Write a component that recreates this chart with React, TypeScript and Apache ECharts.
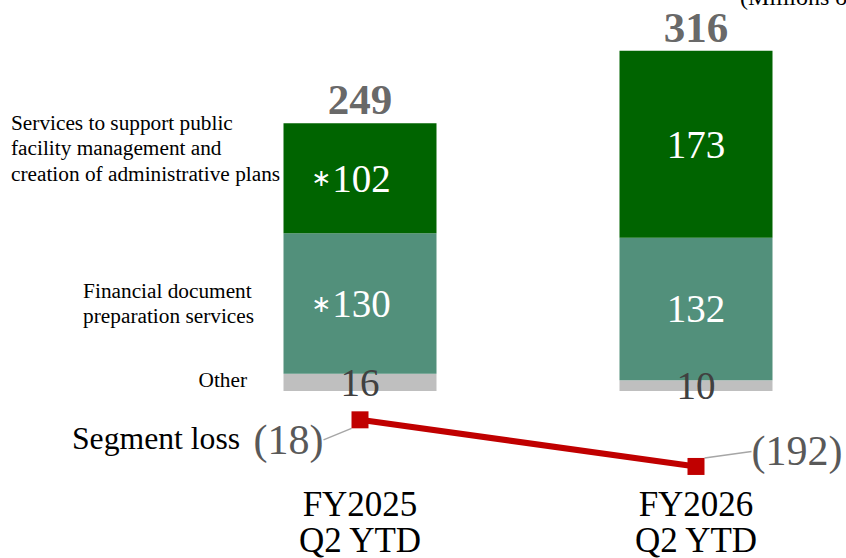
import React, { useEffect, useRef } from "react";
import * as echarts from "echarts";

const categories = ["FY2025\nQ2 YTD", "FY2026\nQ2 YTD"];
const otherValues = [16, 10];
const financialValues = [130, 132];
const publicValues = [102, 173];
const totals = [249, 316];
const segmentLoss = [-18, -192];
const estimateMarks = ["∗", ""];

const FONT = "'Liberation Serif', 'Times New Roman', serif";

export default function App() {
  const ref = useRef<HTMLDivElement>(null);
  useEffect(() => {
    if (!ref.current) return;
    const chart = echarts.init(ref.current, null, { renderer: "svg" });
    const barData = (values: number[], withMark: boolean) =>
      values.map((v, i) => ({
        value: v,
        label: withMark && estimateMarks[i] ? { offset: [-9, 0] } : {},
      }));
    const barLabel = (color: string, withMark: boolean) => ({
      show: true,
      position: "inside" as const,
      color,
      fontSize: 39,
      fontFamily: FONT,
      formatter: (p: any) => {
        const mark = withMark ? estimateMarks[p.dataIndex] : "";
        return (mark ? "{a|" + mark + "}" : "") + "{n|" + p.value + "}";
      },
      rich: {
        a: { color, fontSize: 24, fontFamily: "'DejaVu Sans', " + FONT, padding: [0, 1, 0, 0] },
        n: { color, fontSize: 39, fontFamily: FONT },
      },
    });
    chart.setOption({
      animation: false,
      textStyle: { fontFamily: FONT },
      grid: [
        { left: 360, right: 150, top: 13, height: 378 },
        { left: 360, right: 150, top: 415, height: 69 },
      ],
      xAxis: [
        {
          type: "category",
          data: categories,
          gridIndex: 0,
          boundaryGap: false,
          axisLine: { show: false },
          axisTick: { show: false },
          axisLabel: { show: false },
        },
        {
          type: "category",
          data: categories,
          gridIndex: 1,
          boundaryGap: false,
          axisLine: { show: false, onZero: false },
          axisTick: { show: false },
          axisLabel: {
            show: true,
            color: "#000",
            fontSize: 35,
            lineHeight: 36,
            fontFamily: FONT,
            margin: 4,
          },
        },
      ],
      yAxis: [
        { type: "value", gridIndex: 0, min: 0, max: 350, show: false },
        { type: "value", gridIndex: 1, min: -250, max: 0, show: false },
      ],
      series: [
        {
          name: "Other",
          type: "bar",
          stack: "s",
          data: barData(otherValues, false),
          barWidth: 153,
          itemStyle: { color: "#BFBFBF" },
          label: barLabel("#404040", false),
        },
        {
          name: "Financial document preparation services",
          type: "bar",
          stack: "s",
          data: barData(financialValues, true),
          barWidth: 153,
          itemStyle: { color: "#52907B" },
          label: barLabel("#FFFFFF", true),
        },
        {
          name: "Services to support public facility management and creation of administrative plans",
          type: "bar",
          stack: "s",
          data: barData(publicValues, true),
          barWidth: 153,
          itemStyle: { color: "#006400" },
          label: barLabel("#FFFFFF", true),
        },
        {
          name: "Total",
          type: "scatter",
          data: totals,
          symbolSize: 0,
          label: {
            show: true,
            position: "top",
            distance: 1,
            color: "#404040",
            fontSize: 43,
            fontWeight: "bold",
            fontFamily: FONT,
            formatter: (p: any) => String(p.value),
          },
        },
        {
          name: "Segment loss",
          type: "line",
          xAxisIndex: 1,
          yAxisIndex: 1,
          data: segmentLoss,
          symbol: "rect",
          symbolSize: 17,
          lineStyle: { color: "#C00000", width: 6 },
          itemStyle: { color: "#C00000" },
          label: {
            show: true,
            position: "left",
            distance: 5,
            color: "#595959",
            fontSize: 42,
            fontFamily: FONT,
            formatter: (p: any) => "(" + -p.value + ")",
          },
          labelLine: { show: true, lineStyle: { color: "#A6A6A6", width: 1.5 } },
          labelLayout: (p: any) =>
            p.dataIndex === 0 ? { dx: -23, dy: 20 } : { dx: 160, dy: -15 },
        },
      ],
      graphic: [
        {
          type: "text",
          left: 11,
          top: 110,
          style: {
            text: "Services to support public\nfacility management and\ncreation of administrative plans",
            fontSize: 21.3,
            lineHeight: 25.5,
            fontFamily: FONT,
            fill: "#000",
            align: "left",
          },
        },
        {
          type: "text",
          right: 846 - 254,
          top: 278,
          style: {
            text: "Financial document\npreparation services",
            fontSize: 21.3,
            lineHeight: 25.5,
            fontFamily: FONT,
            fill: "#000",
            align: "left",
          },
        },
        {
          type: "text",
          x: 247,
          y: 380,
          style: {
            text: "Other",
            fontSize: 21.3,
            fontFamily: FONT,
            fill: "#000",
            align: "right",
            verticalAlign: "middle",
          },
        },
        {
          type: "text",
          x: 72,
          y: 438,
          style: {
            text: "Segment loss",
            fontSize: 31.7,
            fontFamily: FONT,
            fill: "#000",
            align: "left",
            verticalAlign: "middle",
          },
        },
        {
          type: "text",
          x: 740,
          y: -3,
          style: {
            text: "(Millions of yen)",
            fontSize: 24,
            fontFamily: FONT,
            fill: "#000",
            align: "left",
            verticalAlign: "middle",
          },
        },
      ],
    });
    return () => chart.dispose();
  }, []);
  return <div ref={ref} style={{ width: 846, height: 558, position: "absolute", left: 0, top: 0 }} />;
}
